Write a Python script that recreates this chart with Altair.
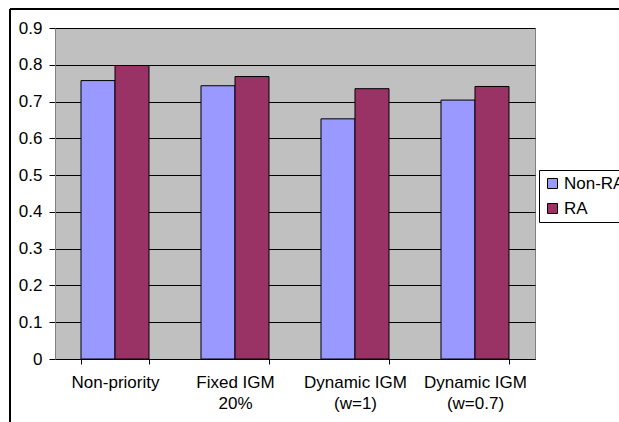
import altair as alt
import pandas as pd

# Scheduling schemes and the two series compared under each
categories = ["Non-priority", "Fixed IGM\n20%", "Dynamic IGM\n(w=1)", "Dynamic IGM\n(w=0.7)"]
series = ["Non-RA", "RA"]
non_ra = [0.757, 0.743, 0.653, 0.704]
ra = [0.798, 0.768, 0.735, 0.741]

df = pd.DataFrame({
    "scheme": categories * 2,
    "series": [series[0]] * len(categories) + [series[1]] * len(categories),
    "value": non_ra + ra,
})

FONT = "Liberation Sans"
FS = 17

bars = alt.Chart(df).mark_bar(stroke="#000000", strokeWidth=1).encode(
    x=alt.X(
        "scheme:N",
        sort=categories,
        scale=alt.Scale(paddingInner=0.4333, paddingOuter=0.21667),
        axis=alt.Axis(
            title=None,
            labelAngle=0,
            labelExpr="split(datum.label, '\\n')",
            labelLineHeight=21,
            labelPadding=10,
            tickBand="extent",
            tickSize=5,
            tickColor="#000000",
            domainColor="#000000",
            grid=False,
        ),
    ),
    xOffset=alt.XOffset("series:N", sort=series, scale=alt.Scale(paddingInner=0, paddingOuter=0)),
    y=alt.Y(
        "value:Q",
        scale=alt.Scale(domain=[0, 0.9], nice=False),
        axis=alt.Axis(
            title=None,
            values=[0, 0.1, 0.2, 0.3, 0.4, 0.5, 0.6, 0.7, 0.8, 0.9],
            format=".1~f",
            tickSize=6,
            labelPadding=7,
            tickColor="#000000",
            domainColor="#808080",
            grid=True,
            gridColor="#000000",
            gridWidth=1,
            gridOpacity=1,
        ),
    ),
    color=alt.Color(
        "series:N",
        sort=series,
        scale=alt.Scale(domain=series, range=["#9999FF", "#993366"]),
        legend=alt.Legend(
            title=None,
            orient="none",
            legendX=484,
            legendY=142,
            symbolType="square",
            symbolSize=100,
            symbolStrokeColor="#000000",
            symbolStrokeWidth=1,
            symbolOpacity=1,
            labelFontSize=FS,
            labelFont=FONT,
            labelColor="#000000",
            labelOffset=3,
            rowPadding=7,
            padding=5,
            strokeColor="#000000",
            fillColor="#FFFFFF",
        ),
    ),
)

# Outer chart frame
frame = alt.Chart(df).mark_rect(
    fillOpacity=0, stroke="#000000", strokeWidth=1
).encode(
    x=alt.value(-45), x2=alt.value(700), y=alt.value(-19), y2=alt.value(500)
)

chart = alt.layer(frame, bars).properties(
    width=480,
    height=331,
    autosize=alt.AutoSizeParams(type="none"),
    padding={"left": 55, "top": 28, "right": 84, "bottom": 63},
    background="#FFFFFF",
).configure_view(
    fill="#C0C0C0", stroke="#808080", strokeWidth=1
).configure_axis(
    labelFont=FONT, labelFontSize=FS, labelColor="#000000"
)

chart.save("out.html", embed_options={"renderer": "svg", "actions": False})
